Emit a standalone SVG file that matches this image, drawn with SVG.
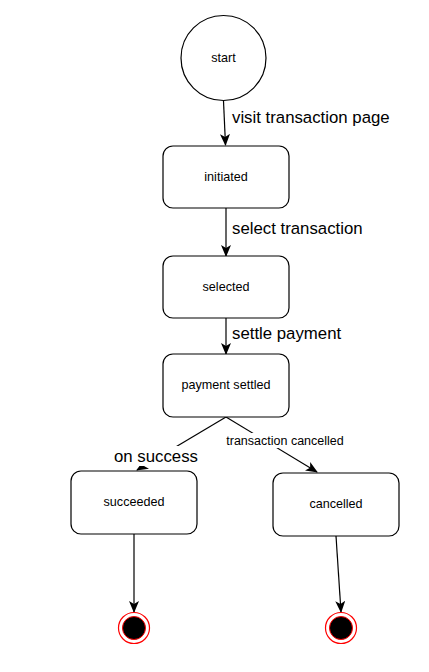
<svg xmlns="http://www.w3.org/2000/svg" width="429" height="672" viewBox="0 0 429 672">
<style>
.n{fill:#fff;stroke:#000;stroke-width:1.2}
.t{font-family:"Liberation Sans",Arial,sans-serif;font-size:12.6px;fill:#000;text-anchor:middle}
.e{fill:none;stroke:#000;stroke-width:1.2}
.l{font-family:"Liberation Sans",Arial,sans-serif;font-size:16.8px;fill:#000}
.ls{font-family:"Liberation Sans",Arial,sans-serif;font-size:12.5px;fill:#000;text-anchor:middle}
</style>
<defs>
<marker id="a" viewBox="0 0 12 10" refX="11" refY="5" markerWidth="12" markerHeight="10" markerUnits="userSpaceOnUse" orient="auto">
<path d="M0,0 L12,5 L0,10 L3,5 Z" fill="#000"/>
</marker>
</defs>
<rect width="429" height="672" fill="#fff"/>
<g id="connectors">
<line class="e" x1="223.5" y1="101" x2="225.5" y2="145" marker-end="url(#a)"/>
<line class="e" x1="226" y1="208" x2="226" y2="256" marker-end="url(#a)"/>
<line class="e" x1="226" y1="318" x2="226" y2="354" marker-end="url(#a)"/>
<line class="e" x1="226" y1="417" x2="137" y2="470" marker-end="url(#a)"/>
<line class="e" x1="226" y1="417" x2="317" y2="472" marker-end="url(#a)"/>
<line class="e" x1="134" y1="534" x2="134" y2="612" marker-end="url(#a)"/>
<line class="e" x1="336" y1="536" x2="341" y2="612" marker-end="url(#a)"/>
<text class="l" x="232" y="123">visit transaction page</text>
<text class="l" x="232" y="234">select transaction</text>
<text class="l" x="232" y="339">settle payment</text>
<rect x="112" y="446" width="88" height="20" fill="#fff"/>
<text class="l" x="156" y="462" text-anchor="middle">on success</text>
<rect x="224" y="433" width="124" height="15" fill="#fff"/>
<text class="ls" x="285" y="445">transaction cancelled</text>
</g>
<g id="start">
<circle class="n" cx="223.5" cy="58" r="42.5"/>
<text class="t" x="223.5" y="62">start</text>
</g>
<g id="initiated">
<rect class="n" x="163" y="146" width="126" height="62" rx="10"/>
<text class="t" x="226" y="181">initiated</text>
</g>
<g id="selected">
<rect class="n" x="163" y="256" width="126" height="62" rx="10"/>
<text class="t" x="226" y="291">selected</text>
</g>
<g id="payment-settled">
<rect class="n" x="163" y="354" width="126" height="63" rx="10"/>
<text class="t" x="226" y="389">payment settled</text>
</g>
<g id="succeeded">
<rect class="n" x="71" y="471" width="126" height="63" rx="10"/>
<text class="t" x="134" y="506">succeeded</text>
</g>
<g id="cancelled">
<rect class="n" x="273" y="473" width="126" height="63" rx="10"/>
<text class="t" x="336" y="508">cancelled</text>
</g>
<g id="end1">
<circle cx="134" cy="628" r="15.5" fill="#fff" stroke="#f00" stroke-width="1.2"/>
<circle cx="134" cy="628" r="11.5" fill="#000" stroke="#f00" stroke-width="1"/>
</g>
<g id="end2">
<circle cx="341" cy="628" r="15.5" fill="#fff" stroke="#f00" stroke-width="1.2"/>
<circle cx="341" cy="628" r="11.5" fill="#000" stroke="#f00" stroke-width="1"/>
</g>
</svg>
